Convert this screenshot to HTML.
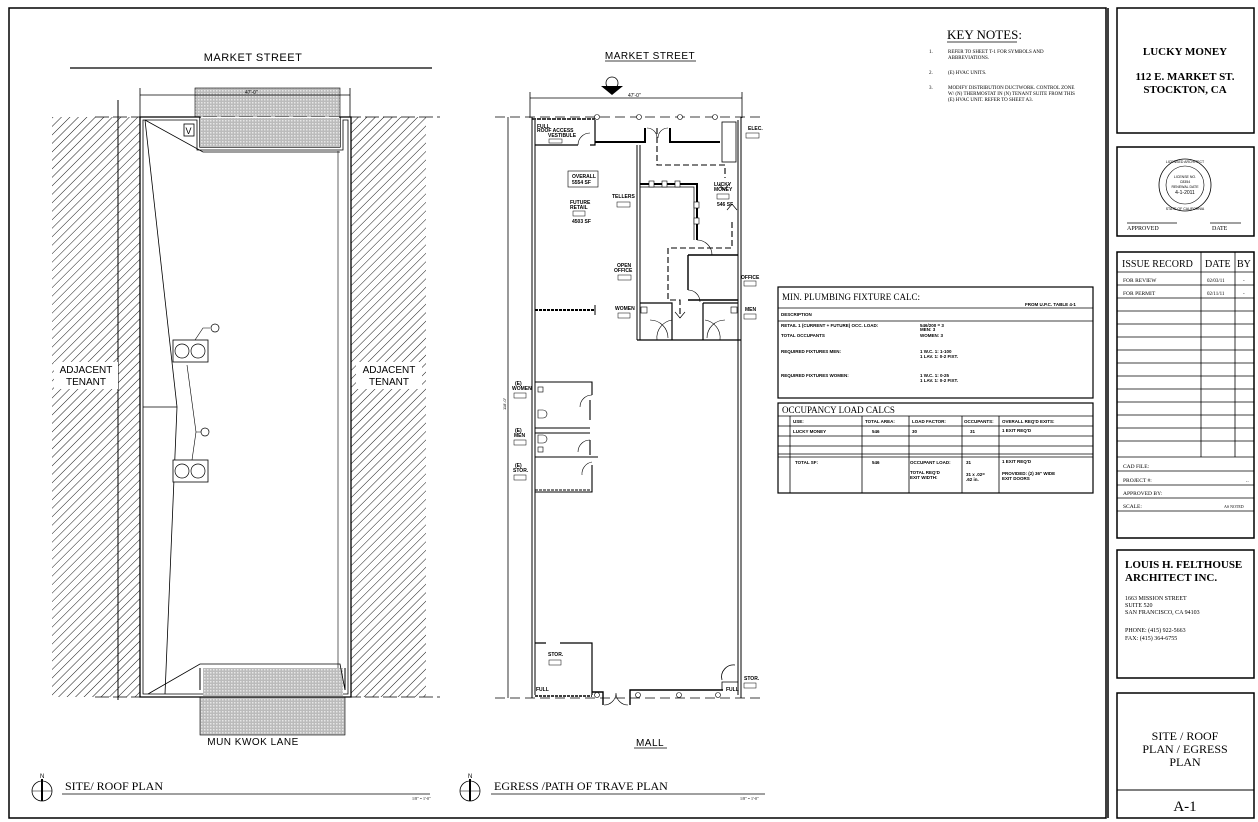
<!DOCTYPE html>
<html><head><meta charset="utf-8"><style>
html,body{margin:0;padding:0;background:#fff}
svg{display:block}
text{font-family:"Liberation Sans",sans-serif;fill:#000}
.s{font-family:"Liberation Serif",serif}
</style></head><body>
<svg width="1258" height="822" viewBox="0 0 1258 822" xmlns="http://www.w3.org/2000/svg">
<defs>
<pattern id="h" width="6" height="6" patternUnits="userSpaceOnUse" patternTransform="rotate(45)">
<rect width="6" height="6" fill="#fff"/><line x1="0" y1="0" x2="0" y2="6" stroke="#000" stroke-width="0.9"/></pattern>
<pattern id="g" width="3" height="3" patternUnits="userSpaceOnUse">
<rect width="3" height="3" fill="#bbb"/><rect width="1.5" height="1.5" fill="#e6e6e6"/></pattern>
</defs>
<rect width="1258" height="822" fill="#fff"/>
<!-- frame -->
<rect x="9" y="8" width="1097" height="810" fill="none" stroke="#000" stroke-width="1.5"/>
<line x1="1108" y1="8" x2="1108" y2="818" stroke="#000" stroke-width="1.5"/>

<!-- ===== SITE PLAN ===== -->
<text x="253" y="61" font-size="11" text-anchor="middle" letter-spacing="0.5">MARKET STREET</text>
<line x1="70" y1="68" x2="432" y2="68" stroke="#000" stroke-width="1.2"/>
<rect x="52" y="117" width="88" height="580" fill="url(#h)"/>
<rect x="351" y="117" width="75" height="580" fill="url(#h)"/>
<line x1="118" y1="100" x2="118" y2="700" stroke="#000"/>
<rect x="195" y="88" width="145" height="59" fill="url(#g)" stroke="#000" stroke-width="0.6"/>
<rect x="200" y="668" width="145" height="67" fill="url(#g)" stroke="#000" stroke-width="0.6"/>
<line x1="140" y1="95" x2="350" y2="95" stroke="#000" stroke-width="0.8"/>
<line x1="140" y1="88" x2="140" y2="118" stroke="#000" stroke-width="0.8"/>
<line x1="350" y1="88" x2="350" y2="118" stroke="#000" stroke-width="0.8"/>
<text x="245" y="94" font-size="5">47'-0"</text>
<line x1="95" y1="117" x2="440" y2="117" stroke="#000" stroke-width="0.8" stroke-dasharray="14,4"/>
<line x1="95" y1="697" x2="440" y2="697" stroke="#000" stroke-width="0.8" stroke-dasharray="14,4"/>
<rect x="140" y="117" width="211" height="580" fill="#fff" stroke="none"/>
<path d="M140 117V697H351V117H340V147H200V117Z" fill="none" stroke="#000" stroke-width="1.3"/>
<path d="M143 120V694H348V120H343V150H197V120Z" fill="none" stroke="#000" stroke-width="0.8"/>
<rect x="200" y="118" width="140" height="29" fill="url(#g)"/>
<rect x="203" y="668" width="140" height="28" fill="url(#g)"/>
<path d="M200 668V690" stroke="#000"/><path d="M345 668V690" stroke="#000"/>
<line x1="338" y1="150" x2="338" y2="668" stroke="#999" stroke-width="1.5"/>
<path d="M145 120L203 152H340" fill="none" stroke="#000" stroke-width="0.8"/>
<path d="M145 120L177 407L165 694" fill="none" stroke="#000" stroke-width="0.8"/>
<line x1="143" y1="407" x2="177" y2="407" stroke="#000" stroke-width="0.8"/>
<path d="M148 694L200 664H340L345 690" fill="none" stroke="#000" stroke-width="0.8"/>
<rect x="184" y="124" width="10" height="12" fill="none" stroke="#000" stroke-width="0.8"/>
<text x="185.5" y="134" font-size="9">V</text>
<rect x="173" y="340" width="35" height="22" fill="#fff" stroke="#000" stroke-width="0.8"/>
<circle cx="182" cy="351" r="7" fill="none" stroke="#000" stroke-width="0.7"/><circle cx="198" cy="351" r="7" fill="none" stroke="#000" stroke-width="0.7"/>
<rect x="173" y="460" width="35" height="22" fill="#fff" stroke="#000" stroke-width="0.8"/>
<circle cx="182" cy="471" r="7" fill="none" stroke="#000" stroke-width="0.7"/><circle cx="198" cy="471" r="7" fill="none" stroke="#000" stroke-width="0.7"/>
<path d="M195 340L203 328H210" fill="none" stroke="#000" stroke-width="0.6"/><circle cx="215" cy="328" r="4" fill="#fff" stroke="#000" stroke-width="0.7"/>
<path d="M187 365L196 432L192 460M196 432H201" fill="none" stroke="#000" stroke-width="0.6"/><circle cx="205" cy="432" r="4" fill="#fff" stroke="#000" stroke-width="0.7"/>
<rect x="54" y="362" width="64" height="27" fill="#fff"/>
<text x="86" y="373" font-size="10" text-anchor="middle">ADJACENT</text><text x="86" y="385" font-size="10" text-anchor="middle">TENANT</text>
<rect x="356" y="362" width="66" height="27" fill="#fff"/>
<text x="389" y="373" font-size="10" text-anchor="middle">ADJACENT</text><text x="389" y="385" font-size="10" text-anchor="middle">TENANT</text>
<text x="253" y="745" font-size="10" text-anchor="middle" letter-spacing="0.5">MUN KWOK LANE</text>

<!-- ===== EGRESS PLAN ===== -->
<text x="650" y="59" font-size="10" text-anchor="middle" letter-spacing="0.5">MARKET STREET</text>
<line x1="605" y1="61" x2="696" y2="61" stroke="#000" stroke-width="0.8"/>
<circle cx="612" cy="83" r="6" fill="none" stroke="#000" stroke-width="0.8"/>
<path d="M601 86H623L612 95Z" fill="#000"/>
<line x1="530" y1="98" x2="742" y2="98" stroke="#000" stroke-width="0.8"/>
<line x1="530" y1="92" x2="530" y2="118" stroke="#000" stroke-width="0.8"/><line x1="742" y1="92" x2="742" y2="118" stroke="#000" stroke-width="0.8"/>
<text x="628" y="97" font-size="5">47'-0"</text>
<line x1="495" y1="117" x2="765" y2="117" stroke="#000" stroke-width="0.8" stroke-dasharray="10,5"/>
<line x1="495" y1="698" x2="765" y2="698" stroke="#000" stroke-width="0.8" stroke-dasharray="10,5"/>
<line x1="508" y1="117" x2="508" y2="698" stroke="#000" stroke-width="0.8"/>
<text x="506" y="410" font-size="4" transform="rotate(-90 506 410)">118'-0"</text>
<!-- outer walls -->
<line x1="532" y1="117" x2="532" y2="698" stroke="#000"/><line x1="535" y1="120" x2="535" y2="695" stroke="#000"/>
<line x1="738" y1="120" x2="738" y2="695" stroke="#000"/><line x1="741" y1="117" x2="741" y2="698" stroke="#000"/>
<line x1="532" y1="119" x2="595" y2="119" stroke="#000" stroke-width="1.5" stroke-dasharray="4,1"/>
<path d="M535 145H578M590 145H595V120" fill="none" stroke="#000" stroke-width="1.2"/>
<path d="M578 145A12 12 0 0 1 590 133" fill="none" stroke="#000" stroke-width="0.6"/>
<path d="M595 142H645V128M670 128V142H720" fill="none" stroke="#000" stroke-width="2"/>
<path d="M647 128A10 10 0 0 1 657 138M668 128A10 10 0 0 0 658 138" fill="none" stroke="#000" stroke-width="0.6"/>
<rect x="722" y="122" width="14" height="40" fill="none" stroke="#000" stroke-width="0.8"/>
<circle cx="597" cy="117" r="2.5" fill="#fff" stroke="#000" stroke-width="0.6"/><circle cx="639" cy="117" r="2.5" fill="#fff" stroke="#000" stroke-width="0.6"/><circle cx="680" cy="117" r="2.5" fill="#fff" stroke="#000" stroke-width="0.6"/><circle cx="715" cy="117" r="2.5" fill="#fff" stroke="#000" stroke-width="0.6"/>
<line x1="637" y1="145" x2="637" y2="340" stroke="#000"/><line x1="640" y1="145" x2="640" y2="340" stroke="#000"/>
<path d="M640 184H697V240" fill="none" stroke="#000" stroke-width="2"/>
<path d="M640 187H694V240" fill="none" stroke="#000" stroke-width="0.7"/>
<rect x="649" y="181" width="5" height="6" fill="#fff" stroke="#000" stroke-width="0.6"/><rect x="662" y="181" width="5" height="6" fill="#fff" stroke="#000" stroke-width="0.6"/><rect x="675" y="181" width="5" height="6" fill="#fff" stroke="#000" stroke-width="0.6"/>
<rect x="694" y="202" width="5" height="6" fill="#fff" stroke="#000" stroke-width="0.6"/><rect x="694" y="218" width="5" height="6" fill="#fff" stroke="#000" stroke-width="0.6"/>
<path d="M697 240A15 15 0 0 1 712 255" fill="none" stroke="#000" stroke-width="0.6"/>
<path d="M688 255H738M688 255V290M688 300H738" fill="none" stroke="#000" stroke-width="1.4"/>
<path d="M688 290A12 12 0 0 1 700 302" fill="none" stroke="#000" stroke-width="0.6"/>
<path d="M640 303H672V340M703 303H738M703 303V340M637 340H741" fill="none" stroke="#000" stroke-width="1.2"/>
<path d="M657 340A18 18 0 0 1 672 320M720 340A18 18 0 0 0 705 320" fill="none" stroke="#000" stroke-width="0.6"/>
<path d="M650 320A18 18 0 0 1 668 338M725 320A18 18 0 0 0 707 338" fill="none" stroke="#000" stroke-width="0.6"/>
<rect x="641" y="307" width="6" height="6" fill="none" stroke="#000" stroke-width="0.6"/><rect x="731" y="307" width="6" height="6" fill="none" stroke="#000" stroke-width="0.6"/>
<!-- egress dashes -->
<path d="M657 128V165H725V178M732 222V248H668V300H680V318" fill="none" stroke="#000" stroke-width="1.1" stroke-dasharray="6,3"/>
<path d="M719 184L724 190L729 184M727 210L732 204L737 210M675 312L680 318L685 312" fill="none" stroke="#000" stroke-width="0.7"/>
<path d="M535 310H595" stroke="#000" stroke-width="2" stroke-dasharray="3,1"/><line x1="595" y1="305" x2="595" y2="315" stroke="#000"/>
<!-- left restrooms -->
<path d="M535 382H592V395M590 400V420M535 428H590M535 433H590M590 440V455M535 457H598M592 465V492H535" fill="none" stroke="#000" stroke-width="1.1"/>
<path d="M592 395A12 12 0 0 0 580 407M590 440A12 12 0 0 0 578 452M592 462A12 12 0 0 0 582 475" fill="none" stroke="#000" stroke-width="0.6"/>
<path d="M538 410h5a4 4 0 0 1 0 8h-5zM538 435h5a4 4 0 0 1 0 8h-5z" fill="none" stroke="#000" stroke-width="0.6"/>
<rect x="538" y="387" width="5" height="5" fill="none" stroke="#000" stroke-width="0.6"/><rect x="538" y="447" width="5" height="5" fill="none" stroke="#000" stroke-width="0.6"/>
<line x1="535" y1="490" x2="590" y2="490" stroke="#000" stroke-dasharray="3,1"/>
<!-- bottom -->
<path d="M535 643H546M560 643H592V695" fill="none" stroke="#000" stroke-width="1.2"/>
<line x1="535" y1="696" x2="592" y2="696" stroke="#000" stroke-width="1.5" stroke-dasharray="3,1"/>
<path d="M592 692H603V705M630 705V690H723" fill="none" stroke="#000" stroke-width="1.4"/>
<path d="M604 705A12 12 0 0 0 616 693A12 12 0 0 0 628 705" fill="none" stroke="#000" stroke-width="0.6"/>
<path d="M722 690V682H738M722 680A12 12 0 0 1 735 665" fill="none" stroke="#000" stroke-width="0.8"/>
<circle cx="597" cy="695" r="2.5" fill="#fff" stroke="#000" stroke-width="0.6"/><circle cx="638" cy="695" r="2.5" fill="#fff" stroke="#000" stroke-width="0.6"/><circle cx="679" cy="695" r="2.5" fill="#fff" stroke="#000" stroke-width="0.6"/><circle cx="718" cy="695" r="2.5" fill="#fff" stroke="#000" stroke-width="0.6"/>
<!-- labels -->
<g font-size="5" font-weight="bold">
<text x="537" y="128">FULL</text><text x="537" y="132">ROOF ACCESS</text><text x="548" y="137">VESTIBULE</text><rect x="549" y="139" width="13" height="4" fill="none" stroke="#000" stroke-width="0.5"/>
<text x="748" y="130">ELEC.</text><rect x="746" y="133" width="13" height="5" fill="none" stroke="#000" stroke-width="0.5"/>
<rect x="568" y="171" width="30" height="16" fill="none" stroke="#000" stroke-width="0.6"/><text x="572" y="178">OVERALL</text><text x="572" y="184">5554 SF</text>
<text x="570" y="204">FUTURE</text><text x="570" y="209">RETAIL</text><rect x="573" y="211" width="12" height="5" fill="none" stroke="#000" stroke-width="0.5"/><text x="572" y="223">4503 SF</text>
<text x="612" y="198">TELLERS</text><rect x="617" y="202" width="13" height="5" fill="none" stroke="#000" stroke-width="0.5"/>
<text x="714" y="186">LUCKY</text><text x="714" y="191">MONEY</text><rect x="717" y="194" width="12" height="5" fill="none" stroke="#000" stroke-width="0.5"/><text x="717" y="206">546 SF</text>
<text x="617" y="267">OPEN</text><text x="614" y="272">OFFICE</text><rect x="618" y="275" width="13" height="5" fill="none" stroke="#000" stroke-width="0.5"/>
<text x="741" y="279">OFFICE</text><rect x="744" y="281" width="12" height="5" fill="none" stroke="#000" stroke-width="0.5"/>
<text x="615" y="310">WOMEN</text><rect x="618" y="313" width="12" height="5" fill="none" stroke="#000" stroke-width="0.5"/>
<text x="745" y="311">MEN</text><rect x="744" y="314" width="12" height="5" fill="none" stroke="#000" stroke-width="0.5"/>
<text x="515" y="385">(E)</text><text x="512" y="390">WOMEN</text><rect x="514" y="393" width="12" height="5" fill="none" stroke="#000" stroke-width="0.5"/>
<text x="515" y="432">(E)</text><text x="514" y="437">MEN</text><rect x="514" y="440" width="12" height="5" fill="none" stroke="#000" stroke-width="0.5"/>
<text x="515" y="467">(E)</text><text x="513" y="472">STOR.</text><rect x="514" y="475" width="12" height="5" fill="none" stroke="#000" stroke-width="0.5"/>
<text x="548" y="656">STOR.</text><rect x="549" y="660" width="12" height="5" fill="none" stroke="#000" stroke-width="0.5"/>
<text x="536" y="691">FULL</text>
<text x="744" y="680">STOR.</text><rect x="744" y="683" width="12" height="5" fill="none" stroke="#000" stroke-width="0.5"/>
<text x="726" y="691">FULL</text>
</g>
<text x="650" y="746" font-size="10" text-anchor="middle" letter-spacing="0.5">MALL</text>
<line x1="634" y1="748" x2="667" y2="748" stroke="#000" stroke-width="0.8"/>

<!-- bottom titles -->
<circle cx="42" cy="791" r="10" fill="none" stroke="#000" stroke-width="0.8"/><line x1="32" y1="791" x2="52" y2="791" stroke="#000" stroke-width="0.6"/><line x1="42" y1="779" x2="42" y2="801" stroke="#000" stroke-width="2"/>
<text x="40" y="778" font-size="6">N</text>
<text x="65" y="790" font-size="12" class="s">SITE/ ROOF  PLAN</text>
<line x1="62" y1="794" x2="430" y2="794" stroke="#000" stroke-width="0.8"/><text x="412" y="800" font-size="4" class="s">1/8" = 1'-0"</text>
<circle cx="470" cy="791" r="10" fill="none" stroke="#000" stroke-width="0.8"/><line x1="460" y1="791" x2="480" y2="791" stroke="#000" stroke-width="0.6"/><line x1="470" y1="779" x2="470" y2="801" stroke="#000" stroke-width="2"/>
<text x="468" y="778" font-size="6">N</text>
<text x="494" y="790" font-size="12" class="s">EGRESS /PATH OF TRAVE PLAN</text>
<line x1="491" y1="794" x2="765" y2="794" stroke="#000" stroke-width="0.8"/><text x="740" y="800" font-size="4" class="s">1/8" = 1'-0"</text>

<!-- key notes -->
<text x="947" y="39" font-size="13" class="s">KEY NOTES:</text><line x1="947" y1="42" x2="1017" y2="42" stroke="#000" stroke-width="0.8"/>
<g font-size="5" class="s"><text x="929" y="53" class="s">1.</text><text x="948" y="53" class="s">REFER TO SHEET T-1 FOR SYMBOLS AND</text><text x="948" y="59" class="s">ABBREVIATIONS.</text>
<text x="929" y="74" class="s">2.</text><text x="948" y="74" class="s">(E) HVAC UNITS.</text>
<text x="929" y="89" class="s">3.</text><text x="948" y="89" class="s">MODIFY DISTRIBUTION DUCTWORK.   CONTROL ZONE</text><text x="948" y="95" class="s">W/ (N) THERMOSTAT IN (N) TENANT SUITE FROM THIS</text><text x="948" y="101" class="s">(E) HVAC UNIT.  REFER TO SHEET A3.</text></g>

<!-- plumbing table -->
<rect x="778" y="287" width="315" height="111" fill="none" stroke="#000" stroke-width="1.2"/>
<text x="782" y="300" font-size="9" class="s">MIN. PLUMBING FIXTURE CALC:</text>
<line x1="778" y1="308" x2="1093" y2="308" stroke="#000" stroke-width="0.8"/>
<line x1="778" y1="321" x2="1093" y2="321" stroke="#000" stroke-width="0.8"/>
<g font-size="4.5" font-weight="bold"><text x="1025" y="306">FROM U.P.C. TABLE 4-1</text>
<text x="781" y="316">DESCRIPTION</text>
<text x="781" y="327">RETAIL 1  (CURRENT + FUTURE) OCC. LOAD:</text><text x="920" y="327">546/200  = 3</text><text x="920" y="331">MEN: 3</text>
<text x="781" y="337">TOTAL OCCUPANTS</text><text x="920" y="337">WOMEN: 3</text>
<text x="781" y="353">REQUIRED FIXTURES MEN:</text><text x="920" y="353">1 W.C.        1: 1-100</text><text x="920" y="358">1 LAV.        1: 0-2 FIXT.</text>
<text x="781" y="377">REQUIRED FIXTURES WOMEN:</text><text x="920" y="377">1 W.C.        1: 0-25</text><text x="920" y="382">1 LAV.        1: 0-2 FIXT.</text>
</g>
<!-- occupancy table -->
<rect x="778" y="403" width="315" height="90" fill="none" stroke="#000" stroke-width="1.2"/>
<text x="782" y="413" font-size="9" class="s">OCCUPANCY LOAD CALCS</text>
<g stroke="#000" stroke-width="0.8">
<line x1="778" y1="416" x2="1093" y2="416"/><line x1="778" y1="426" x2="1093" y2="426"/><line x1="778" y1="436" x2="1093" y2="436"/><line x1="778" y1="446" x2="1093" y2="446"/><line x1="778" y1="454" x2="1093" y2="454"/><line x1="778" y1="457" x2="1093" y2="457"/>
<line x1="790" y1="416" x2="790" y2="493"/><line x1="862" y1="416" x2="862" y2="493"/><line x1="909" y1="416" x2="909" y2="493"/><line x1="962" y1="416" x2="962" y2="493"/><line x1="999" y1="416" x2="999" y2="493"/>
</g>
<g font-size="4.5" font-weight="bold">
<text x="793" y="423">USE:</text><text x="865" y="423">TOTAL AREA:</text><text x="912" y="423">LOAD FACTOR:</text><text x="964" y="423">OCCUPANTS:</text><text x="1002" y="423">OVERALL REQ'D EXITS:</text>
<text x="793" y="433">LUCKY MONEY</text><text x="872" y="433">546</text><text x="912" y="433">30</text><text x="970" y="433">31</text><text x="1002" y="432">1 EXIT REQ'D</text>
<text x="795" y="464">TOTAL  SF:</text><text x="872" y="464">546</text><text x="910" y="464">OCCUPANT LOAD:</text><text x="966" y="464">31</text><text x="1002" y="463">1 EXIT REQ'D</text>
<text x="910" y="474">TOTAL REQ'D</text><text x="910" y="479">EXIT WIDTH:</text><text x="966" y="476">31 x .02=</text><text x="966" y="481">.62 in.</text>
<text x="1002" y="475">PROVIDED: (2) 36" WIDE</text><text x="1002" y="480">EXIT DOORS</text>
</g>

<!-- title block -->
<g fill="none" stroke="#000" stroke-width="1.5">
<rect x="1117" y="8" width="137" height="125"/>
<rect x="1117" y="147" width="137" height="89"/>
<rect x="1117" y="252" width="137" height="286"/>
<rect x="1117" y="550" width="137" height="128"/>
<rect x="1117" y="693" width="137" height="125"/>
</g>
<text x="1185" y="55" font-size="11" font-weight="bold" text-anchor="middle" class="s">LUCKY MONEY</text>
<text x="1185" y="80" font-size="11" font-weight="bold" text-anchor="middle" class="s">112 E. MARKET ST.</text>
<text x="1185" y="93" font-size="11" font-weight="bold" text-anchor="middle" class="s">STOCKTON, CA</text>
<circle cx="1185" cy="185" r="26" fill="none" stroke="#000" stroke-width="0.8"/><circle cx="1185" cy="185" r="19" fill="none" stroke="#000" stroke-width="0.6"/>
<text x="1185" y="178" font-size="3.5" text-anchor="middle">LICENSE NO.</text><text x="1185" y="183" font-size="3.5" text-anchor="middle">C8354</text><text x="1185" y="188" font-size="3.5" text-anchor="middle">RENEWAL DATE</text><text x="1185" y="194" font-size="5" text-anchor="middle">4-1-2011</text>
<text x="1185" y="163" font-size="3.5" text-anchor="middle">LICENSED ARCHITECT</text><text x="1185" y="210" font-size="3.5" text-anchor="middle">STATE OF CALIFORNIA</text>
<line x1="1127" y1="223" x2="1177" y2="223" stroke="#000" stroke-width="0.8"/><line x1="1210" y1="223" x2="1241" y2="223" stroke="#000" stroke-width="0.8"/>
<text x="1127" y="230" font-size="6" class="s">APPROVED</text><text x="1212" y="230" font-size="6" class="s">DATE</text>
<!-- issue record -->
<g stroke="#000" stroke-width="0.8">
<line x1="1117" y1="272" x2="1254" y2="272"/>
<line x1="1117" y1="285" x2="1254" y2="285"/><line x1="1117" y1="298" x2="1254" y2="298"/><line x1="1117" y1="311" x2="1254" y2="311"/><line x1="1117" y1="324" x2="1254" y2="324"/><line x1="1117" y1="337" x2="1254" y2="337"/><line x1="1117" y1="350" x2="1254" y2="350"/><line x1="1117" y1="363" x2="1254" y2="363"/><line x1="1117" y1="376" x2="1254" y2="376"/><line x1="1117" y1="389" x2="1254" y2="389"/><line x1="1117" y1="402" x2="1254" y2="402"/><line x1="1117" y1="415" x2="1254" y2="415"/><line x1="1117" y1="428" x2="1254" y2="428"/><line x1="1117" y1="441" x2="1254" y2="441"/><line x1="1117" y1="457" x2="1254" y2="457"/><line x1="1117" y1="471" x2="1254" y2="471"/><line x1="1117" y1="485" x2="1254" y2="485"/><line x1="1117" y1="498" x2="1254" y2="498"/><line x1="1117" y1="511" x2="1254" y2="511"/>
<line x1="1201" y1="252" x2="1201" y2="457"/><line x1="1235" y1="252" x2="1235" y2="457"/>
</g>
<g class="s">
<text x="1122" y="267" font-size="10" class="s">ISSUE RECORD</text><text x="1205" y="267" font-size="10" class="s">DATE</text><text x="1237" y="267" font-size="10" class="s">BY</text>
<text x="1123" y="282" font-size="5.5" class="s">FOR REVIEW</text><text x="1207" y="282" font-size="5" class="s">02/03/11</text><text x="1243" y="282" font-size="5" class="s">-</text>
<text x="1123" y="295" font-size="5.5" class="s">FOR PERMIT</text><text x="1207" y="295" font-size="5" class="s">02/11/11</text><text x="1243" y="295" font-size="5" class="s">-</text>
<text x="1123" y="468" font-size="5.5" class="s">CAD FILE:</text><text x="1123" y="482" font-size="5.5" class="s">PROJECT #:</text><text x="1246" y="482" font-size="5.5" class="s">..</text>
<text x="1123" y="495" font-size="5.5" class="s">APPROVED BY:</text><text x="1123" y="508" font-size="5.5" class="s">SCALE:</text><text x="1224" y="508" font-size="4" class="s">AS NOTED</text>
</g>
<text x="1125" y="568" font-size="11" font-weight="bold" class="s">LOUIS H. FELTHOUSE</text>
<text x="1125" y="581" font-size="11" font-weight="bold" class="s">ARCHITECT INC.</text>
<g font-size="6" class="s"><text x="1125" y="600" class="s">1663 MISSION STREET</text><text x="1125" y="607" class="s">SUITE 520</text><text x="1125" y="614" class="s">SAN FRANCISCO, CA 94103</text>
<text x="1125" y="632" class="s">PHONE: (415) 922-5663</text><text x="1125" y="640" class="s">FAX:      (415) 364-6755</text></g>
<text x="1185" y="740" font-size="12" text-anchor="middle" class="s">SITE / ROOF</text>
<text x="1185" y="753" font-size="12" text-anchor="middle" class="s">PLAN / EGRESS</text>
<text x="1185" y="766" font-size="12" text-anchor="middle" class="s">PLAN</text>
<line x1="1117" y1="790" x2="1254" y2="790" stroke="#000" stroke-width="1"/>
<text x="1185" y="811" font-size="15" text-anchor="middle" class="s">A-1</text>
</svg>
</body></html>
